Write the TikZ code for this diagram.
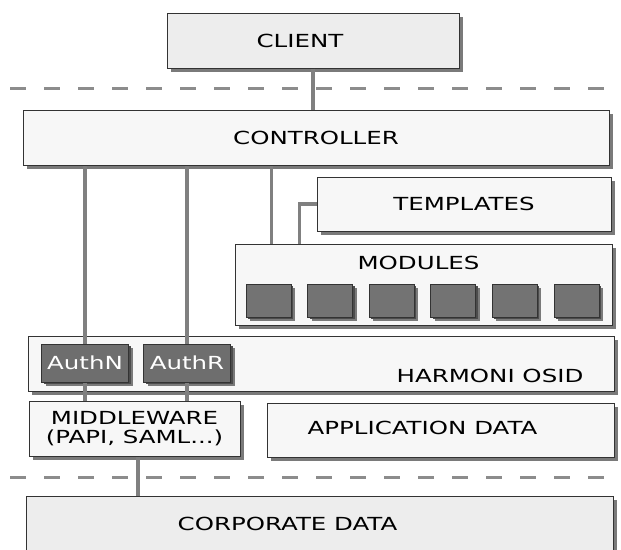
\documentclass[tikz,border=0pt]{standalone}
\usepackage{fontspec}
\setmainfont{DejaVu Sans}[FakeStretch=1.36]
\usetikzlibrary{positioning, shadows}
\tikzset{
    layer/.style={draw=black!80, line width=1pt, fill=black!3, inner sep=0pt, minimum height=55pt,
        drop shadow={shadow xshift=4pt, shadow yshift=-4pt, opacity=1, fill=black!52}},
    edge/.style={layer, fill=black!7},
    auth/.style={layer, fill=black!57, text=white, minimum width=87pt, minimum height=38pt,
        drop shadow={shadow xshift=2pt, shadow yshift=-2pt, opacity=1, fill=black!70}},
    modbox/.style={auth, fill=black!55, minimum width=45pt, minimum height=33pt},
    link/.style={draw=black!50, line width=3.2pt},
    tier/.style={draw=black!45, line width=3pt, dash pattern=on 16pt off 18pt}
}
\begin{document}
\begin{tikzpicture}[x=1pt, y=-1pt, font=\fontsize{18}{21}\selectfont]
    \useasboundingbox (0,0) rectangle (621,549);

    % tier borders
    \draw [tier] (10,88) -- (612,88);
    \draw [tier] (10,477) -- (612,477);

    \node (client) [edge, minimum width=292pt, label={[xshift=-13pt]center:CLIENT}] at (313,40.5) {};
    \node (controller) [layer, minimum width=586pt, below=41pt of client, xshift=3pt] {CONTROLLER};
    \node (templates) [layer, minimum width=294pt, minimum height=54pt] at (464,204) {TEMPLATES};
    \node (modules) [layer, minimum width=377pt, minimum height=81pt,
        label={[xshift=-5pt, yshift=21.5pt]center:MODULES}] at (423.5,284.5) {};
    \foreach \i in {0,...,5}
        \node (mod\i) [modbox] at ({268.5+61.6*\i},300.5) {};
    \node (harmoni) [layer, minimum width=586pt,
        label={[xshift=169pt, yshift=-12.5pt]center:HARMONI OSID}] at (321,363.5) {};
    \node (authn) [auth] at (85,363) {AuthN};
    \node (authr) [auth, right=14pt of authn] {AuthR};
    \node (middleware) [layer, minimum width=211pt, align=center] at (134.5,428.5) {MIDDLEWARE\\[-2pt](PAPI, SAML...)};
    \node (appdata) [layer, minimum width=347pt, minimum height=54pt,
        label={[xshift=-18pt, yshift=2.5pt]center:APPLICATION DATA}] at (440.5,430) {};
    \node (corporate) [edge, minimum width=587pt, minimum height=64pt,
        label={[xshift=-32pt, yshift=4.5pt]center:CORPORATE DATA}] at (319.5,528) {};

    \draw [link] (client.south) -- (client.south |- controller.north);
    \draw [link] (authn.north) -- (authn.north |- controller.south);
    \draw [link] (authr.north) -- (authr.north |- controller.south);
    \draw [link] ([xshift=37pt]modules.north west) -- ([xshift=37pt]modules.north west |- controller.south);
    \draw [link] (templates.west) -| ([xshift=65pt]modules.north west);
    \draw [link] (authn.south) -- (authn.south |- middleware.north);
    \draw [link] (authr.south) -- (authr.south |- middleware.north);
    \draw [link] ([xshift=3.5pt]middleware.south) -- ([xshift=3.5pt]middleware.south |- corporate.north);
\end{tikzpicture}
\end{document}
